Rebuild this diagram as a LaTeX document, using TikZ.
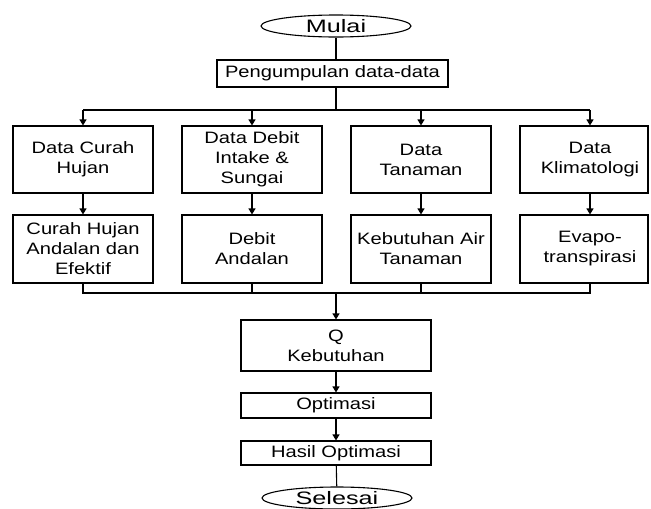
\documentclass[tikz,border=0pt]{standalone}
\usepackage{fontspec}
\setmainfont{Liberation Sans}
\usetikzlibrary{arrows.meta,shapes.geometric}
\newcommand\sx[1]{\scalebox{1.22}[1]{#1}}
\newcommand\tx[1]{\scalebox{1.4}[1]{#1}}
\begin{document}
\begin{tikzpicture}[x=1pt,y=-1pt,
  font=\fontsize{16.5}{20}\selectfont, line width=1.1pt,
  box/.style={draw, rectangle, inner sep=0pt, align=center, minimum width=140pt},
  term/.style={draw, ellipse, minimum width=150pt, minimum height=22pt, inner sep=0pt,
    font=\fontsize{18}{20}\selectfont},
  arr/.style={-{Triangle[length=6pt,width=7pt]}},
  txt/.style={align=center, inner sep=0pt}]
\useasboundingbox (0,0) rectangle (651,509);
% terminals and main boxes
\node[term] (mulai) at (336,26) {\tx{Mulai}};
\node[box, minimum width=231pt, minimum height=27pt] (kumpul) at (332.5,73.5) {\sx{Pengumpulan data-data}};
% row 1
\node[box, minimum height=67pt] (d1) at (83,159.5) {\sx{Data Curah}\\\sx{Hujan}};
\node[box, minimum height=67pt] (d2) at (252,159.5) {\sx{Data Debit}\\\sx{Intake \&}\\\sx{Sungai}};
\node[box, minimum height=67pt] (d3) at (421,159.5) {\sx{Data}\\\sx{Tanaman}};
\node[box, minimum width=128pt, minimum height=67pt] (d4) at (584,159.5) {};
\node[txt] (d4t) at (590,159.5) {\sx{Data}\\\sx{Klimatologi}};
% row 2
\node[box, minimum height=68pt] (h1) at (83,249) {\sx{Curah Hujan}\\\sx{Andalan dan}\\\sx{Efektif}};
\node[box, minimum height=68pt] (h2) at (252,249) {\sx{Debit}\\\sx{Andalan}};
\node[box, minimum height=68pt] (h3) at (421,249) {\sx{Kebutuhan Air}\\\sx{Tanaman}};
\node[box, minimum width=128pt, minimum height=68pt] (h4) at (584,249) {};
\node[txt] (h4t) at (590,249) {\sx{Evapo-}\\\sx{transpirasi}};
% lower chain
\node[box, minimum width=190pt, minimum height=51pt] (q) at (336,345.5) {\sx{Q}\\\sx{Kebutuhan}};
\node[box, minimum width=190pt, minimum height=25pt] (opt) at (336,405.5) {\sx{Optimasi}};
\node[box, minimum width=190pt, minimum height=24pt] (hasil) at (336,453) {\sx{Hasil Optimasi}};
\node[term] (selesai) at (337,498) {\tx{Selesai}};
% bus coordinates
\coordinate (busL) at (83,110);
\coordinate (busR) at (590,110);
\coordinate (bbL) at (83,293);
\coordinate (bbR) at (590,293);
% connectors
\draw (mulai) -- (mulai |- kumpul.north);
\draw (kumpul.south -| mulai) -- (mulai |- busL);
\draw (busL) -- (busR);
\draw[arr] (busL) -- (d1);
\draw[arr] (d2 |- busL) -- (d2);
\draw[arr] (d3 |- busL) -- (d3);
\draw[arr] (busR) -- (d4t |- d4.north);
\draw[arr] (d1) -- (h1);
\draw[arr] (d2) -- (h2);
\draw[arr] (d3) -- (h3);
\draw[arr] (d4t |- d4.south) -- (h4t |- h4.north);
\draw (h1) -- (bbL) -- (bbR) -- (h4t |- h4.south);
\draw (h2) -- (h2 |- bbL);
\draw (h3) -- (h3 |- bbL);
\draw[arr] (q |- bbL) -- (q);
\draw[arr] (q) -- (opt);
\draw[arr] (opt) -- (hasil);
\draw (hasil) -- (selesai);
\end{tikzpicture}
\end{document}
